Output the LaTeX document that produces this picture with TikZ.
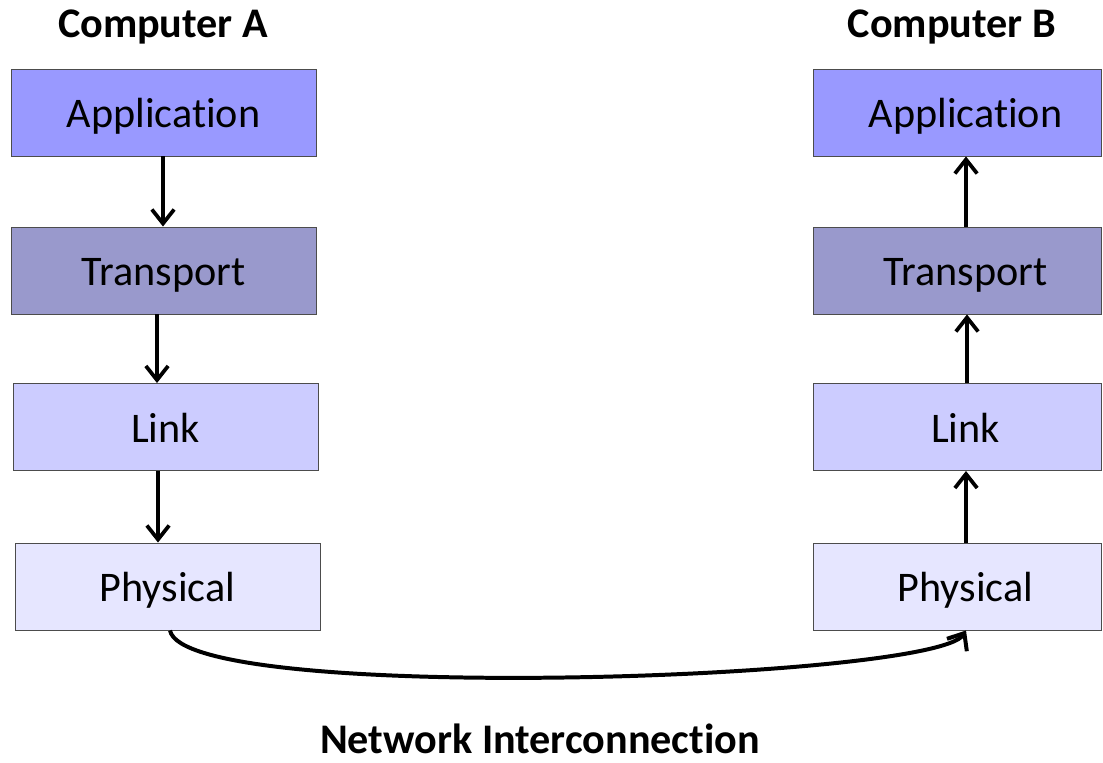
\documentclass[tikz,border=0pt]{standalone}
\usepackage{fontspec}
\setmainfont{Carlito}[Ligatures={NoCommon,NoRare,NoContextual},Contextuals=NoAlternate]
\usetikzlibrary{arrows.meta}
\newcommand{\rpad}{\hspace{14.5pt}}
\begin{document}
\begin{tikzpicture}[x={(0.03cm,0)},y={(0,-0.03cm)},
  box/.style={draw=black!70, line width=0.8pt, inner sep=0pt, minimum height=2.61cm,
    text height=26pt, text depth=0pt, font=\fontsize{36}{43}\selectfont},
  lbox/.style={box, minimum width=9.15cm},
  rbox/.style={box, minimum width=8.64cm},
  app/.style={fill={rgb,255:red,153;green,153;blue,255}},
  trn/.style={fill={rgb,255:red,153;green,153;blue,204}},
  lnk/.style={fill={rgb,255:red,204;green,204;blue,255}},
  phy/.style={fill={rgb,255:red,230;green,230;blue,255}},
  title/.style={font=\fontsize{36}{43}\selectfont\bfseries, text height=23pt, text depth=0pt, inner sep=0pt},
  arr/.style={line width=3.2pt, -{Straight Barb[length=12pt,width=19pt]}},
  curve/.style={line width=3.4pt, -{Straight Barb[length=12pt,width=20pt]}}]
\useasboundingbox (0,0) rectangle (1103,762);
% titles
\node[title] (ta) at (163,24) {Computer A};
\node[title] (tb) at (952,24) {Computer B};
\node[title] (net) at (540,740) {Network Interconnection};
% left stack
\node[lbox,app] (A1) at (163.5,112.5) {Application};
\node[lbox,trn] (T1) at (163.5,270.5) {Transport};
\node[lbox,lnk] (L1) at (165.5,427) {Link};
\node[lbox,phy] (P1) at (167.5,586.5) {Physical};
% right stack
\node[rbox,app] (A2) at (957,112.5) {\rpad Application};
\node[rbox,trn] (T2) at (957,270.5) {\rpad Transport};
\node[rbox,lnk] (L2) at (957,427) {\rpad Link};
\node[rbox,phy] (P2) at (957,586.5) {\rpad Physical};
% down arrows
\draw[arr] (A1.south -| 163,0) -- (T1.north -| 163,0);
\draw[arr] (T1.south -| 157,0) -- (L1.north -| 157,0);
\draw[arr] (L1.south -| 158,0) -- (P1.north -| 158,0);
% up arrows
\draw[arr] (P2.north -| 966,0) -- (L2.south -| 966,0);
\draw[arr] (L2.north -| 967,0) -- (T2.south -| 967,0);
\draw[arr] (T2.north -| 966,0) -- (A2.south -| 966,0);
% interconnection
\draw[curve] (P1.south -| 170,0) .. controls (185,705) and (935,680) .. (P2.south -| 966,0);
\end{tikzpicture}
\end{document}
